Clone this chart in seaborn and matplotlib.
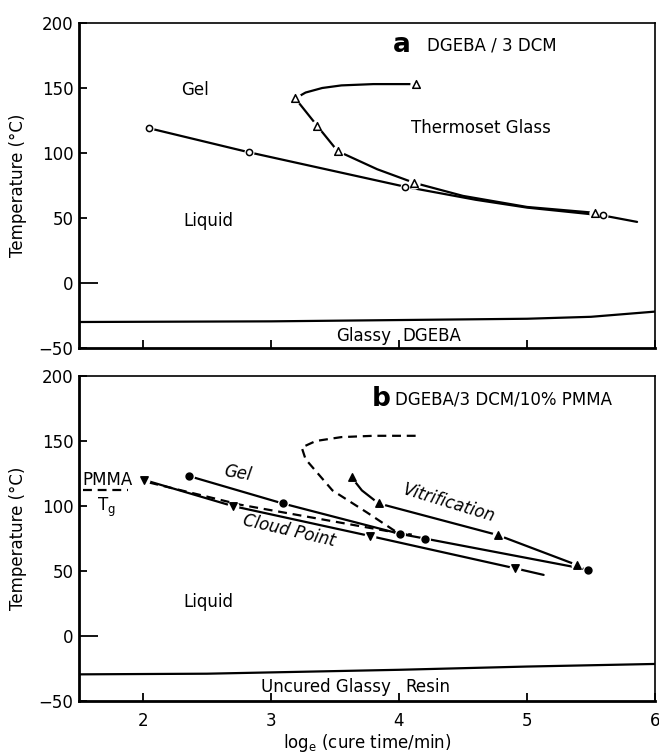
import matplotlib
matplotlib.use("Agg")
import matplotlib.pyplot as plt
import seaborn as sns

# ---------------- panel a: DGEBA / 3 DCM ----------------
a_gel_x = [2.05, 2.83, 4.05, 5.59]
a_gel_t = [119, 100.5, 74, 52]
a_gel_line_x = [2.05, 2.83, 4.05, 4.6, 5.0, 5.59, 5.86]
a_gel_line_t = [119, 100.5, 74, 64, 58, 52, 47]

a_vit_x = [4.13, 3.19, 3.36, 3.52, 4.12, 5.53]
a_vit_t = [153, 142, 121, 101.5, 77, 54]
a_vit_line_x = [4.13, 3.8, 3.55, 3.4, 3.27, 3.19, 3.36, 3.52, 3.83, 4.12, 4.5, 5.0, 5.53]
a_vit_line_t = [153, 153, 152, 150, 146.5, 142, 121, 101.5, 87.5, 77, 67, 58.5, 54]

a_glassy_x = [1.5, 3.0, 4.0, 5.0, 5.5, 6.0]
a_glassy_t = [-30, -29.5, -28.5, -27.5, -26, -22]

# ---------------- panel b: DGEBA / 3 DCM / 10% PMMA ----------------
b_cloud_x = [2.01, 2.70, 3.77, 4.91]
b_cloud_t = [120, 100, 77, 52]
b_cloud_line_x = [2.01, 2.70, 3.77, 4.91, 5.13]
b_cloud_line_t = [120, 100, 77, 52, 47]

b_gel_x = [2.36, 3.09, 4.01, 4.20, 5.48]
b_gel_t = [123, 102, 78.5, 75, 51]

b_vit_x = [3.63, 3.84, 4.77, 5.39]
b_vit_t = [122, 102, 77.7, 54.6]
b_vit_line_x = [3.63, 3.71, 3.84, 4.77, 5.39]
b_vit_line_t = [122, 112, 102, 77.7, 54.6]

# neat-resin reference curves (dashed)
b_ref_gel_x = [2.05, 2.76, 3.95, 4.1]
b_ref_gel_t = [118, 101, 80, 78]
b_ref_vit_x = [4.13, 3.8, 3.55, 3.35, 3.24, 3.27, 3.48, 3.75, 3.98, 4.1]
b_ref_vit_t = [154, 154, 153, 150, 145, 136, 112, 95, 80, 77]

b_glassy_x = [1.5, 2.5, 3.0, 4.0, 5.0, 6.0]
b_glassy_t = [-29.5, -29, -28, -26, -23.5, -21.5]

pmma_tg_x = [1.53, 1.88]
pmma_tg_t = [112, 112]

x_ticks = [2, 3, 4, 5, 6]
y_ticks = [-50, 0, 50, 100, 150, 200]

sns.set_theme(style="ticks")
plt.rcParams["font.family"] = ["DejaVu Sans"]
plt.rcParams["text.color"] = "black"
plt.rcParams["axes.labelcolor"] = "black"
plt.rcParams["axes.linewidth"] = 1.4

W, H = 659, 756
fig = plt.figure(figsize=(W / 100, H / 100), dpi=100)


def px_axes(left, top, right, bottom):
    return fig.add_axes([left / W, 1 - bottom / H, (right - left) / W, (bottom - top) / H])


ax_a = px_axes(79, 23, 655, 348)
ax_b = px_axes(79, 376, 655, 701)

LW = 1.6
DASH = (0, (4, 2.6))


def curve(ax, x, y, ls="-"):
    sns.lineplot(x=x, y=y, sort=False, estimator=None, color="black",
                 linewidth=LW, linestyle=ls, ax=ax, zorder=2)


def points(ax, x, y, marker, filled, size):
    # white halo leaves a small gap in the lines around each point
    sns.scatterplot(x=x, y=y, marker="o", s=size * 2.6, color="white",
                    edgecolor="white", linewidth=0, ax=ax, zorder=3)
    sns.scatterplot(x=x, y=y, marker=marker, s=size,
                    facecolor="black" if filled else "white",
                    edgecolor="black", linewidth=1.1, ax=ax, zorder=4)


def style_axes(ax, show_xlabels):
    ax.set_xlim(1.5, 6)
    ax.set_ylim(-50, 200)
    ax.set_xticks(x_ticks)
    ax.set_yticks(y_ticks)
    ax.tick_params(direction="in", length=6, width=1.3, labelsize=12,
                   colors="black", pad=4)
    ax.tick_params(axis="x", pad=8)
    if not show_xlabels:
        ax.tick_params(axis="x", labelbottom=False)
    for t, v in zip(ax.yaxis.get_major_ticks(), y_ticks):
        if v == 0:
            t.tick1line.set_markersize(14)
    for s in ax.spines.values():
        s.set_visible(True)
        s.set_color("black")
    ax.spines["bottom"].set_linewidth(2.0)
    ax.spines["left"].set_linewidth(2.0)
    ax.spines["top"].set_linewidth(1.2)
    ax.spines["right"].set_linewidth(1.2)
    ax.set_ylabel("Temperature (°C)", fontsize=12, color="black")
    ax.yaxis.set_label_coords(-0.091, 0.5)
    ax.set_xlabel("")
    ax.grid(False)


# ---------------- draw panel a ----------------
curve(ax_a, a_gel_line_x, a_gel_line_t)
curve(ax_a, a_vit_line_x, a_vit_line_t)
curve(ax_a, a_glassy_x, a_glassy_t)
points(ax_a, a_gel_x, a_gel_t, "o", False, 20)
points(ax_a, a_vit_x, a_vit_t, "^", False, 30)
style_axes(ax_a, False)

ax_a.text(4.02, 183, "a", fontsize=19, fontweight="heavy", ha="center", va="center")
ax_a.text(4.22, 183, "DGEBA / 3 DCM", fontsize=12, ha="left", va="center")
ax_a.text(2.41, 148.5, "Gel", fontsize=12, ha="center", va="center")
ax_a.text(2.51, 47.5, "Liquid", fontsize=12, ha="center", va="center")
ax_a.text(4.64, 119, "Thermoset Glass", fontsize=12, ha="center", va="center")
ax_a.text(3.94, -41, "Glassy", fontsize=12, ha="right", va="center")
ax_a.text(4.03, -41, "DGEBA", fontsize=12, ha="left", va="center")

# ---------------- draw panel b ----------------
curve(ax_b, b_ref_gel_x, b_ref_gel_t, DASH)
curve(ax_b, b_ref_vit_x, b_ref_vit_t, DASH)
curve(ax_b, b_cloud_line_x, b_cloud_line_t)
curve(ax_b, b_gel_x, b_gel_t)
curve(ax_b, b_vit_line_x, b_vit_line_t)
curve(ax_b, b_glassy_x, b_glassy_t)
curve(ax_b, pmma_tg_x, pmma_tg_t, DASH)
points(ax_b, b_cloud_x, b_cloud_t, "v", True, 28)
points(ax_b, b_gel_x, b_gel_t, "o", True, 24)
points(ax_b, b_vit_x, b_vit_t, "^", True, 28)
style_axes(ax_b, True)
ax_b.set_xlabel(r"$\mathregular{log_e}$ (cure time/min)", fontsize=12,
                color="black", labelpad=1)

ax_b.text(3.86, 182, "b", fontsize=19, fontweight="heavy", ha="center", va="center")
ax_b.text(3.97, 182, "DGEBA/3 DCM/10% PMMA", fontsize=12, ha="left", va="center")
ax_b.text(1.53, 120, "PMMA", fontsize=12, ha="left", va="center")
ax_b.text(1.64, 99, r"$\mathregular{T_g}$", fontsize=12, ha="left", va="center")
ax_b.text(2.74, 125, "Gel", fontsize=12, style="italic", rotation=-9,
          ha="center", va="center", rotation_mode="anchor")
ax_b.text(3.14, 81, "Cloud Point", fontsize=12, style="italic", rotation=-13,
          ha="center", va="center", rotation_mode="anchor")
ax_b.text(4.39, 102, "Vitrification", fontsize=12, style="italic", rotation=-17,
          ha="center", va="center", rotation_mode="anchor")
ax_b.text(2.51, 26, "Liquid", fontsize=12, ha="center", va="center")
ax_b.text(3.94, -39, "Uncured Glassy", fontsize=12, ha="right", va="center")
ax_b.text(4.05, -39, "Resin", fontsize=12, ha="left", va="center")

fig.savefig("out.png", dpi=100, facecolor="white")
